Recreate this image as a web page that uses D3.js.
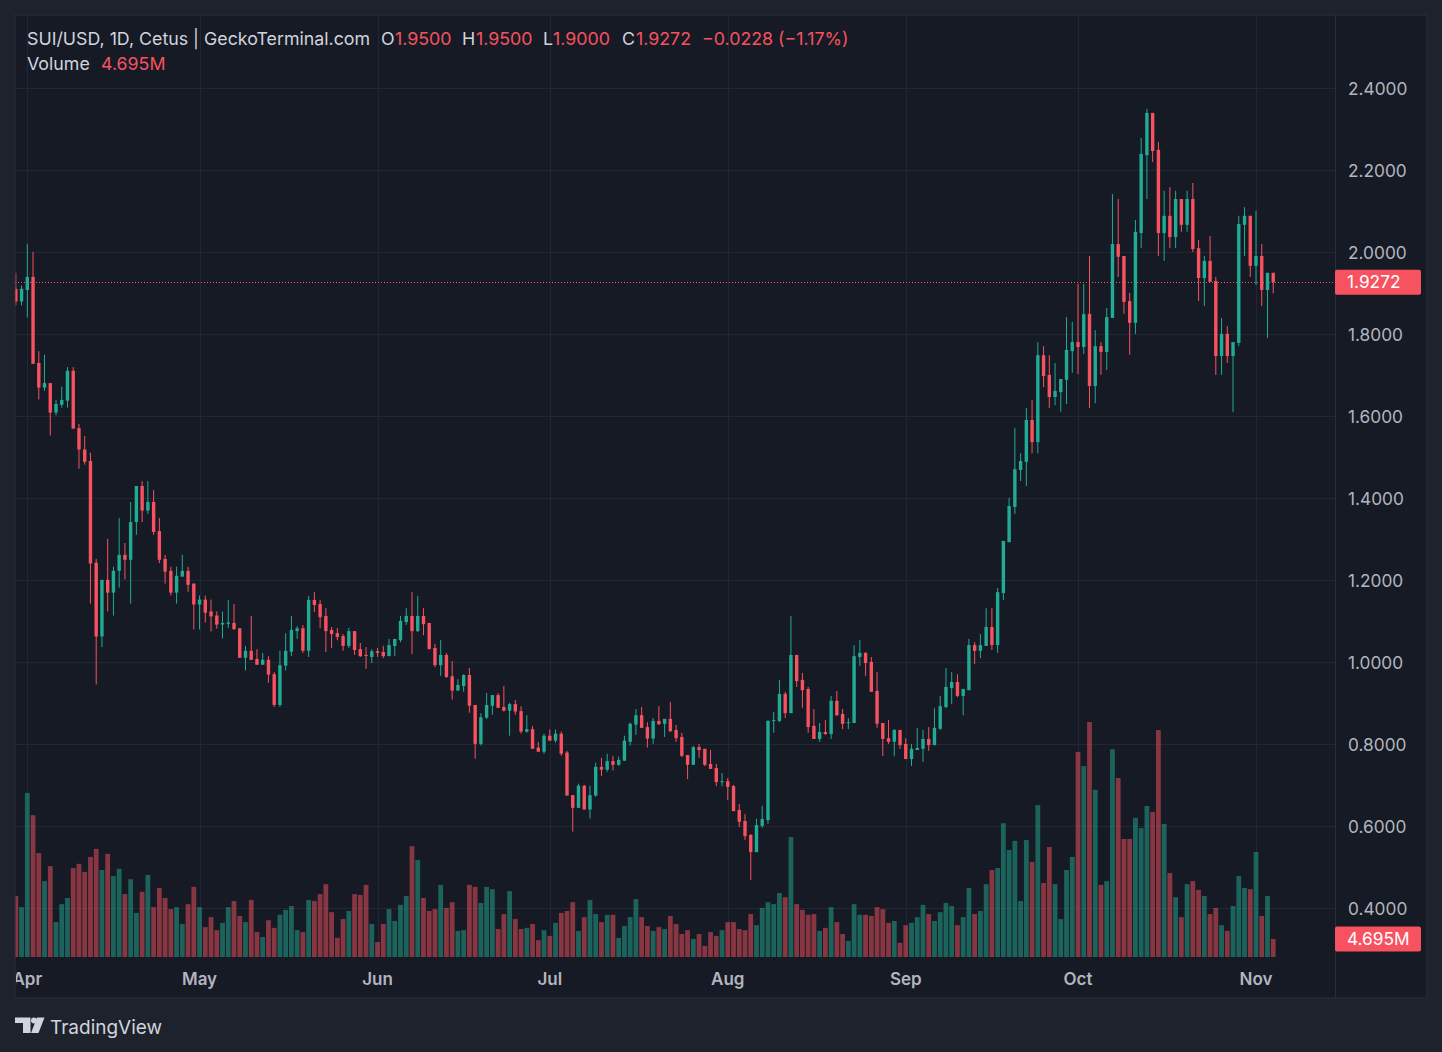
<!DOCTYPE html>
<html>
<head>
<meta charset="utf-8">
<script src="https://cdn.jsdelivr.net/npm/d3@7"></script>
<style>
  html, body { margin: 0; padding: 0; background: #1e222d; }
  svg { display: block; font-family: Inter, "Noto Sans", sans-serif; }
</style>
</head>
<body>
<div id="chart"></div>
<script>
// SUI/USD daily candles, 2024-03-30 .. 2024-11-04 (one value per day)
const firstDay = '2024-03-30';

const opens = [
  1.911, 1.880, // Mar 30-31
  1.908, 1.940, 1.730, 1.670, 1.681, 1.609, 1.628, 1.638, 1.711, 1.571, 1.519, 1.491, 1.243, 1.063, 1.201,
  1.170, 1.223, 1.262, 1.250, 1.342, 1.430, 1.370, 1.391, 1.320, 1.252, 1.223, 1.170, 1.209, 1.223, 1.192, // Apr
  1.141, 1.153, 1.124, 1.114, 1.092, 1.094, 1.096, 1.083, 1.011, 1.028, 1.008, 0.994, 1.006, 0.971, 0.896, 0.992,
  1.026, 1.076, 1.083, 1.028, 1.152, 1.142, 1.113, 1.079, 1.071, 1.064, 1.040, 1.076, 1.032, 1.018, 1.013, // May
  1.027, 1.025, 1.015, 1.040, 1.054, 1.098, 1.113, 1.076, 1.113, 1.096, 1.035, 0.993, 1.018, 0.966, 0.931,
  0.942, 0.969, 0.896, 0.801, 0.865, 0.894, 0.920, 0.891, 0.882, 0.898, 0.881, 0.831, 0.837, 0.792, 0.782, // Jun
  0.821, 0.809, 0.826, 0.780, 0.676, 0.645, 0.699, 0.641, 0.675, 0.745, 0.738, 0.759, 0.750, 0.760, 0.806, 0.848,
  0.871, 0.842, 0.814, 0.857, 0.850, 0.862, 0.835, 0.818, 0.774, 0.750, 0.793, 0.789, 0.752, 0.742, 0.708, // Jul
  0.710, 0.698, 0.640, 0.613, 0.579, 0.537, 0.601, 0.615, 0.857, 0.857, 0.923, 0.876, 1.018, 0.957, 0.935, 0.845,
  0.813, 0.830, 0.825, 0.906, 0.874, 0.852, 0.852, 1.013, 1.023, 1.001, 0.930, 0.852, 0.815, 0.806, 0.835, // Aug
  0.801, 0.764, 0.786, 0.789, 0.813, 0.798, 0.838, 0.891, 0.937, 0.952, 0.918, 0.932, 1.042, 1.028, 1.040,
  1.086, 1.042, 1.169, 1.293, 1.379, 1.469, 1.489, 1.591, 1.537, 1.749, 1.701, 1.647, 1.659, 1.689, 1.759, // Sep
  1.781, 1.769, 1.850, 1.674, 1.771, 1.757, 1.840, 2.020, 1.991, 1.881, 1.828, 2.047, 2.237, 2.340, 2.250, 2.047,
  2.089, 2.037, 2.130, 2.067, 2.130, 2.010, 1.937, 1.979, 1.930, 1.747, 1.801, 1.747, 1.779, 2.067, 2.089, // Oct
  1.967, 1.991, 1.908, 1.950 // Nov 1-4
];

const highs = [
  1.950, 1.919,
  2.020, 2.001, 1.759, 1.750, 1.681, 1.640, 1.672, 1.720, 1.720, 1.581, 1.552, 1.511, 1.252, 1.201, 1.301,
  1.233, 1.352, 1.291, 1.391, 1.430, 1.442, 1.442, 1.420, 1.352, 1.262, 1.233, 1.233, 1.262, 1.233, 1.192,
  1.163, 1.163, 1.153, 1.124, 1.124, 1.152, 1.142, 1.083, 1.040, 1.113, 1.032, 1.023, 1.015, 0.976, 1.028, 1.071,
  1.113, 1.088, 1.091, 1.162, 1.171, 1.152, 1.132, 1.086, 1.084, 1.069, 1.084, 1.076, 1.047, 1.037, 1.032,
  1.035, 1.040, 1.057, 1.057, 1.113, 1.132, 1.171, 1.162, 1.132, 1.096, 1.045, 1.054, 1.023, 1.003, 0.959,
  0.971, 0.986, 0.896, 0.876, 0.925, 0.920, 0.925, 0.942, 0.901, 0.908, 0.893, 0.871, 0.845, 0.806, 0.826,
  0.836, 0.836, 0.831, 0.784, 0.676, 0.704, 0.701, 0.699, 0.755, 0.767, 0.777, 0.772, 0.770, 0.821, 0.853, 0.886,
  0.891, 0.854, 0.864, 0.893, 0.862, 0.903, 0.847, 0.828, 0.774, 0.796, 0.801, 0.789, 0.786, 0.752, 0.730,
  0.718, 0.701, 0.654, 0.630, 0.581, 0.618, 0.650, 0.859, 0.879, 0.957, 0.928, 1.113, 1.018, 0.974, 0.940, 0.886,
  0.852, 0.859, 0.918, 0.930, 0.886, 0.864, 1.042, 1.054, 1.025, 1.013, 0.976, 0.852, 0.859, 0.837, 0.835,
  0.815, 0.801, 0.840, 0.835, 0.842, 0.888, 0.918, 0.986, 0.976, 0.971, 0.935, 1.057, 1.049, 1.069, 1.132,
  1.132, 1.181, 1.296, 1.401, 1.571, 1.510, 1.620, 1.640, 1.781, 1.771, 1.749, 1.730, 1.691, 1.842, 1.830,
  1.923, 1.923, 1.991, 1.810, 1.781, 1.864, 2.142, 2.130, 1.991, 1.901, 2.079, 2.279, 2.350, 2.340, 2.269, 2.150,
  2.159, 2.150, 2.130, 2.150, 2.169, 2.030, 1.991, 2.040, 1.940, 1.840, 1.820, 1.781, 2.089, 2.110, 2.089,
  2.101, 2.020, 1.950, 1.950
];

const lows = [
  1.870, 1.870,
  1.841, 1.728, 1.641, 1.662, 1.553, 1.602, 1.621, 1.621, 1.570, 1.472, 1.482, 1.143, 0.946, 1.037, 1.124,
  1.114, 1.182, 1.202, 1.143, 1.311, 1.342, 1.362, 1.311, 1.242, 1.192, 1.163, 1.143, 1.209, 1.172, 1.080,
  1.080, 1.097, 1.075, 1.082, 1.058, 1.084, 1.079, 1.011, 0.980, 1.006, 0.994, 0.994, 0.950, 0.891, 0.891, 0.980,
  1.015, 1.057, 1.023, 1.013, 1.123, 1.083, 1.025, 1.035, 1.054, 1.028, 1.035, 1.018, 1.013, 0.984, 0.998,
  1.013, 1.010, 1.015, 1.015, 1.049, 1.091, 1.020, 1.074, 1.066, 1.032, 0.988, 0.967, 0.962, 0.909, 0.931,
  0.928, 0.877, 0.765, 0.797, 0.862, 0.872, 0.889, 0.880, 0.821, 0.872, 0.826, 0.828, 0.789, 0.782, 0.777,
  0.809, 0.804, 0.772, 0.675, 0.587, 0.645, 0.641, 0.619, 0.672, 0.723, 0.733, 0.736, 0.748, 0.760, 0.797, 0.823,
  0.840, 0.792, 0.801, 0.847, 0.818, 0.830, 0.806, 0.769, 0.715, 0.750, 0.767, 0.747, 0.740, 0.698, 0.698,
  0.664, 0.637, 0.598, 0.567, 0.469, 0.537, 0.596, 0.606, 0.828, 0.854, 0.864, 0.876, 0.940, 0.889, 0.828, 0.813,
  0.806, 0.823, 0.813, 0.869, 0.837, 0.837, 0.852, 0.991, 0.967, 0.928, 0.840, 0.771, 0.801, 0.771, 0.789,
  0.764, 0.747, 0.786, 0.757, 0.784, 0.798, 0.835, 0.888, 0.898, 0.915, 0.871, 0.932, 0.996, 1.010, 1.040,
  1.030, 1.023, 1.152, 1.293, 1.362, 1.442, 1.430, 1.510, 1.510, 1.671, 1.620, 1.627, 1.611, 1.630, 1.706,
  1.703, 1.752, 1.620, 1.632, 1.701, 1.713, 1.840, 1.940, 1.850, 1.750, 1.801, 2.011, 2.130, 2.220, 1.991, 1.979,
  2.010, 2.010, 2.050, 2.050, 2.001, 1.881, 1.869, 1.928, 1.701, 1.701, 1.730, 1.610, 1.771, 1.991, 1.940,
  1.920, 1.869, 1.791, 1.900
];

const closes = [
  1.880, 1.911,
  1.940, 1.728, 1.670, 1.681, 1.609, 1.630, 1.640, 1.711, 1.570, 1.519, 1.489, 1.241, 1.063, 1.201, 1.170,
  1.223, 1.262, 1.250, 1.342, 1.430, 1.370, 1.391, 1.318, 1.250, 1.221, 1.170, 1.211, 1.223, 1.189, 1.141,
  1.153, 1.121, 1.112, 1.092, 1.096, 1.097, 1.081, 1.011, 1.028, 1.006, 0.994, 1.006, 0.970, 0.896, 0.993, 1.028,
  1.079, 1.083, 1.028, 1.152, 1.140, 1.110, 1.076, 1.069, 1.062, 1.040, 1.076, 1.030, 1.015, 1.016, 1.027,
  1.023, 1.015, 1.042, 1.057, 1.101, 1.113, 1.076, 1.113, 1.093, 1.032, 0.993, 1.018, 0.964, 0.931, 0.945,
  0.969, 0.894, 0.801, 0.866, 0.896, 0.920, 0.889, 0.882, 0.898, 0.880, 0.831, 0.837, 0.789, 0.782, 0.821,
  0.809, 0.826, 0.777, 0.675, 0.645, 0.699, 0.641, 0.676, 0.745, 0.738, 0.759, 0.750, 0.762, 0.809, 0.850, 0.871,
  0.840, 0.814, 0.857, 0.849, 0.862, 0.832, 0.815, 0.772, 0.750, 0.793, 0.786, 0.750, 0.740, 0.708, 0.710,
  0.696, 0.637, 0.611, 0.576, 0.537, 0.603, 0.618, 0.857, 0.859, 0.923, 0.876, 1.018, 0.954, 0.932, 0.842, 0.813,
  0.830, 0.825, 0.906, 0.871, 0.850, 0.854, 1.015, 1.023, 0.998, 0.928, 0.850, 0.813, 0.806, 0.835, 0.798,
  0.764, 0.789, 0.791, 0.813, 0.798, 0.840, 0.893, 0.940, 0.952, 0.918, 0.935, 1.042, 1.028, 1.042, 1.086,
  1.042, 1.171, 1.296, 1.381, 1.471, 1.491, 1.591, 1.537, 1.749, 1.698, 1.647, 1.662, 1.691, 1.762, 1.781,
  1.769, 1.849, 1.674, 1.771, 1.757, 1.842, 2.020, 1.989, 1.879, 1.828, 2.050, 2.240, 2.340, 2.247, 2.047, 2.089,
  2.037, 2.130, 2.067, 2.130, 2.008, 1.937, 1.979, 1.928, 1.747, 1.801, 1.747, 1.781, 2.069, 2.089, 1.967,
  1.991, 1.908, 1.950, 1.9272
];

// volume in millions of USD
const volumes = [
  15.9, 13.0,
  42.8, 37.0, 27.1, 19.8, 23.7, 9.1, 13.8, 15.4, 23.2, 24.3, 22.2, 26.1, 28.2, 22.7, 26.9,
  21.1, 23.0, 16.4, 20.3, 11.5, 17.0, 21.4, 13.0, 18.0, 15.4, 12.5, 13.0, 8.6, 13.8, 18.3,
  13.0, 7.8, 10.4, 7.0, 8.9, 13.0, 14.6, 10.7, 9.1, 14.9, 6.5, 5.2, 9.6, 7.6, 11.0, 12.3,
  13.3, 7.0, 6.5, 14.9, 14.6, 16.4, 19.0, 11.7, 5.0, 9.9, 12.0, 16.4, 16.2, 18.8, 8.6,
  3.9, 8.6, 12.5, 9.4, 13.6, 15.9, 28.9, 25.3, 15.4, 12.0, 12.5, 18.8, 12.8, 14.3, 6.8,
  7.0, 18.8, 18.3, 14.1, 18.3, 17.7, 7.3, 11.2, 17.2, 9.9, 7.3, 7.6, 8.6, 4.4, 7.0,
  5.5, 8.9, 11.5, 12.0, 14.3, 6.8, 10.4, 14.9, 11.2, 9.1, 11.0, 11.0, 5.0, 8.1, 10.4, 15.1,
  10.4, 8.1, 6.8, 7.8, 7.3, 10.7, 8.6, 6.0, 7.0, 4.7, 6.0, 2.9, 6.5, 5.5, 7.0,
  9.1, 9.1, 7.3, 7.0, 11.2, 8.3, 12.8, 14.3, 13.8, 16.7, 15.6, 31.3, 13.8, 12.3, 11.0, 11.2,
  6.8, 7.6, 13.0, 9.1, 6.0, 4.2, 13.8, 11.0, 11.0, 10.7, 13.0, 12.5, 8.9, 9.4, 3.7,
  8.3, 8.9, 10.4, 13.6, 11.2, 9.4, 11.7, 14.1, 13.3, 8.3, 10.4, 18.0, 11.2, 12.0, 19.0,
  22.7, 23.2, 34.9, 27.9, 30.3, 14.6, 30.5, 24.8, 39.6, 19.3, 28.7, 19.0, 9.9, 22.7, 26.1,
  53.5, 49.8, 61.3, 43.6, 18.8, 19.8, 54.2, 46.7, 30.8, 30.8, 36.3, 33.6, 39.4, 37.8, 59.2, 34.7,
  21.9, 15.6, 10.4, 19.0, 19.8, 17.5, 15.9, 11.2, 12.8, 8.3, 6.8, 13.3, 21.1, 18.0, 17.7,
  27.4, 10.7, 15.9, 4.695
];

const priceTicks = [0.4, 0.6, 0.8, 1.0, 1.2, 1.4, 1.6, 1.8, 2.0, 2.2, 2.4];
const monthTicks = ['2024-04-01', '2024-05-01', '2024-06-01', '2024-07-01',
  '2024-08-01', '2024-09-01', '2024-10-01', '2024-11-01'];

const header = {
  title: 'SUI/USD, 1D, Cetus | GeckoTerminal.com',
  o: '1.9500', h: '1.9500', l: '1.9000', c: '1.9272',
  change: '\u22120.0228 (\u22121.17%)',
  volume: '4.695M'
};

const width = 1442, height = 1052;
const UP = '#22ab94', DOWN = '#f7525f';
const GRID = '#232733', TEXT = '#d1d4dc', AXIS_TEXT = '#b2b5be';

const panel = { left: 15, top: 15, right: 1427, bottom: 998 };
const plotRight = 1335, volBase = 957;

const parse = d3.utcParse('%Y-%m-%d');
const start = parse(firstDay);
const data = closes.map((c, i) => ({
  date: d3.utcDay.offset(start, i),
  o: opens[i], h: highs[i], l: lows[i], c: c, v: volumes[i]
}));

const xScale = d3.scaleUtc()
  .domain([parse('2024-04-01'), parse('2024-11-01')])
  .range([27.3, 1256]);
const yScale = d3.scaleLinear().domain([0.4, 2.4]).range([908.3, 88.3]);
const vScale = d3.scaleLinear().domain([0, d3.max(volumes)]).range([volBase, 722]);

const svg = d3.select('#chart').append('svg')
  .attr('width', width)
  .attr('height', height);

svg.append('rect').attr('width', width).attr('height', height).attr('fill', '#1e222d');

// main panel
svg.append('rect')
  .attr('x', panel.left).attr('y', panel.top)
  .attr('width', panel.right - panel.left).attr('height', panel.bottom - panel.top)
  .attr('fill', '#161a25')
  .attr('stroke', '#2a2e39');

const defs = svg.append('defs');
defs.append('clipPath').attr('id', 'plotclip')
  .append('rect')
  .attr('x', panel.left + 0.5).attr('y', panel.top)
  .attr('width', plotRight - panel.left - 0.5).attr('height', volBase - panel.top);
defs.append('clipPath').attr('id', 'axisclip')
  .append('rect')
  .attr('x', panel.left + 1).attr('y', volBase)
  .attr('width', plotRight - panel.left - 1).attr('height', panel.bottom - volBase);

// grid
const grid = svg.append('g').attr('clip-path', 'url(#plotclip)');
grid.selectAll('.hgrid')
  .data(priceTicks)
  .enter()
  .append('line')
  .attr('x1', panel.left).attr('x2', plotRight)
  .attr('y1', d => Math.round(yScale(d)) + 0.5)
  .attr('y2', d => Math.round(yScale(d)) + 0.5)
  .attr('stroke', GRID);
grid.selectAll('.vgrid')
  .data(monthTicks)
  .enter()
  .append('line')
  .attr('x1', d => Math.round(xScale(parse(d))) + 0.5)
  .attr('x2', d => Math.round(xScale(parse(d))) + 0.5)
  .attr('y1', panel.top).attr('y2', volBase)
  .attr('stroke', GRID);

// volume bars
const plot = svg.append('g').attr('clip-path', 'url(#plotclip)');
const volW = 4.8;
plot.selectAll('.vol')
  .data(data)
  .enter()
  .append('rect')
  .attr('class', 'vol')
  .attr('x', d => xScale(d.date) - volW / 2)
  .attr('y', d => vScale(d.v))
  .attr('width', volW)
  .attr('height', d => volBase - vScale(d.v))
  .attr('fill', d => d.c >= d.o ? UP : DOWN)
  .attr('fill-opacity', 0.5);

// last price line
plot.append('line')
  .attr('x1', panel.left).attr('x2', plotRight)
  .attr('y1', Math.round(yScale(closes[closes.length - 1])) + 0.5)
  .attr('y2', Math.round(yScale(closes[closes.length - 1])) + 0.5)
  .attr('stroke', DOWN)
  .attr('stroke-dasharray', '1,2');

// candles
const bodyW = 3.4;
const candle = plot.selectAll('.candle')
  .data(data)
  .enter()
  .append('g')
  .attr('class', 'candle');
candle.append('line')
  .attr('x1', d => xScale(d.date)).attr('x2', d => xScale(d.date))
  .attr('y1', d => yScale(d.h)).attr('y2', d => yScale(d.l))
  .attr('stroke', d => d.c >= d.o ? UP : DOWN)
  .attr('stroke-width', 1);
candle.append('rect')
  .attr('x', d => xScale(d.date) - bodyW / 2)
  .attr('y', d => yScale(Math.max(d.o, d.c)))
  .attr('width', bodyW)
  .attr('height', d => Math.max(1, Math.abs(yScale(d.o) - yScale(d.c))))
  .attr('fill', d => d.c >= d.o ? UP : DOWN);

// price axis
svg.append('line')
  .attr('x1', plotRight + 0.5).attr('x2', plotRight + 0.5)
  .attr('y1', panel.top).attr('y2', panel.bottom)
  .attr('stroke', '#2a2e39');
svg.selectAll('.ptick')
  .data(priceTicks)
  .enter()
  .append('text')
  .attr('x', 1348)
  .attr('y', d => yScale(d))
  .attr('dy', '0.36em')
  .attr('fill', AXIS_TEXT)
  .style('font-size', '17.3px')
  .text(d => d3.format('.4f')(d));

// last price / last volume tags
function tag(y, label) {
  svg.append('rect')
    .attr('x', plotRight).attr('y', y - 12.5)
    .attr('width', 86).attr('height', 25).attr('rx', 2)
    .attr('fill', DOWN);
  svg.append('text')
    .attr('x', 1347).attr('y', y)
    .attr('dy', '0.36em')
    .attr('fill', '#ffffff')
    .style('font-size', '17.3px')
    .text(label);
}
tag(yScale(closes[closes.length - 1]), d3.format('.4f')(closes[closes.length - 1]));
tag(vScale(volumes[volumes.length - 1]) , header.volume);

// time axis
svg.append('g').attr('clip-path', 'url(#axisclip)')
  .selectAll('.mtick')
  .data(monthTicks)
  .enter()
  .append('text')
  .attr('x', d => xScale(parse(d)))
  .attr('y', 979)
  .attr('dy', '0.36em')
  .attr('text-anchor', 'middle')
  .attr('fill', AXIS_TEXT)
  .style('font-size', '17px')
  .style('font-weight', 600)
  .text(d => d3.utcFormat('%b')(parse(d)));

// legend / header
const head = svg.append('g').style('font-size', '17.8px');
function seg(x, y, txt, color) {
  head.append('text').attr('x', x).attr('y', y).attr('dy', '0.36em')
    .attr('fill', color).text(txt);
}
seg(27, 39, header.title, TEXT);
seg(381, 39, 'O', TEXT); seg(395, 39, header.o, DOWN);
seg(462, 39, 'H', TEXT); seg(476, 39, header.h, DOWN);
seg(543, 39, 'L', TEXT); seg(553, 39, header.l, DOWN);
seg(622, 39, 'C', TEXT); seg(636, 39, header.c, DOWN);
seg(702, 39, header.change, DOWN);
seg(27, 64, 'Volume', TEXT);
seg(101, 64, header.volume, DOWN);

// TradingView mark
const logo = svg.append('g').attr('fill', TEXT);
logo.append('path').attr('d', 'M15,1017.5 H30.5 V1033 H23 V1023 H15 Z');
logo.append('circle').attr('cx', 34).attr('cy', 1020.5).attr('r', 3);
logo.append('path').attr('d', 'M37,1017.5 H44.5 L38.5,1033 H31 Z');
svg.append('text')
  .attr('x', 50).attr('y', 1027).attr('dy', '0.36em')
  .attr('fill', TEXT)
  .style('font-size', '19px')
  .text('TradingView');
</script>
</body>
</html>
